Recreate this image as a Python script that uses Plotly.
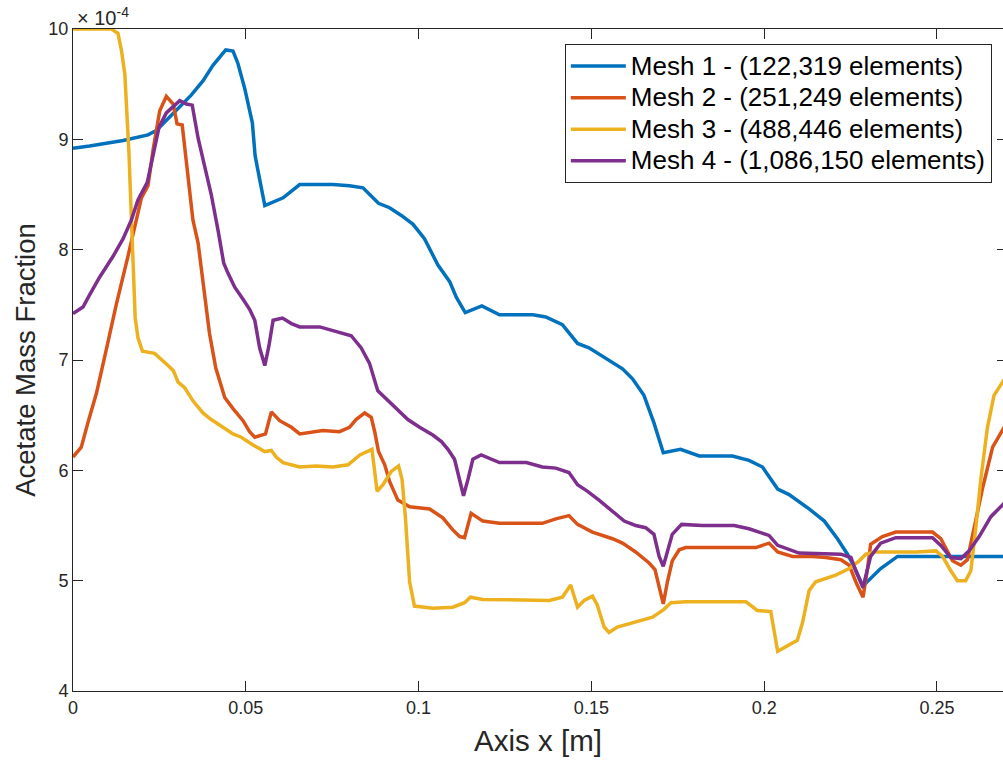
import plotly.graph_objects as go

# Axial position [m] and acetate mass fraction [x1e-4] for each mesh
x1 = [0, 0.0048, 0.0145, 0.0217, 0.0241, 0.027, 0.0309, 0.0342, 0.0376, 0.0405, 0.0442, 0.0463,
      0.0477, 0.0497, 0.0519, 0.0527, 0.054, 0.0555, 0.0608, 0.0656, 0.0752, 0.08, 0.0839, 0.0884,
      0.0916, 0.095, 0.0984, 0.1017, 0.1056, 0.109, 0.1109, 0.1135, 0.1183, 0.1234, 0.1331, 0.1368,
      0.1416, 0.146, 0.1493, 0.1532, 0.159, 0.1619, 0.1652, 0.1681, 0.1708, 0.1758, 0.1812, 0.1908,
      0.1956, 0.1995, 0.2039, 0.2072, 0.213, 0.2174, 0.2212, 0.2241, 0.226, 0.2285, 0.2337, 0.2386,
      0.27]
y1 = [8.92, 8.94, 8.99, 9.04, 9.08, 9.17, 9.30, 9.40, 9.53, 9.67, 9.81, 9.80,
      9.69, 9.46, 9.15, 8.85, 8.64, 8.40, 8.47, 8.59, 8.59, 8.58, 8.56, 8.42,
      8.38, 8.31, 8.23, 8.10, 7.86, 7.71, 7.57, 7.43, 7.49, 7.41, 7.41, 7.39,
      7.32, 7.15, 7.11, 7.03, 6.92, 6.83, 6.68, 6.43, 6.16, 6.19, 6.13, 6.13,
      6.09, 6.03, 5.83, 5.78, 5.65, 5.54, 5.38, 5.24, 5.13, 4.95, 5.11, 5.22,
      5.22]

x2 = [0, 0.0024, 0.0043, 0.0068, 0.0096, 0.0125, 0.0159, 0.0183, 0.0198, 0.0217, 0.0232, 0.0251,
      0.027, 0.029, 0.0301, 0.0316, 0.0328, 0.0347, 0.0362, 0.0376, 0.0395, 0.0413, 0.0439, 0.0463,
      0.0492, 0.0511, 0.0526, 0.0557, 0.0574, 0.0598, 0.0632, 0.0656, 0.0685, 0.0723, 0.0771, 0.08,
      0.0819, 0.0844, 0.0863, 0.0873, 0.0884, 0.0902, 0.0916, 0.094, 0.0974, 0.1032, 0.107, 0.1099,
      0.1119, 0.1133, 0.1152, 0.1186, 0.1234, 0.1358, 0.1397, 0.1435, 0.146, 0.1503, 0.1561, 0.159,
      0.1628, 0.1667, 0.1684, 0.1696, 0.1708, 0.172, 0.1734, 0.1754, 0.1773, 0.1976, 0.2014, 0.2039,
      0.2082, 0.214, 0.2178, 0.2222, 0.2246, 0.2265, 0.2286, 0.2299, 0.2308, 0.2342, 0.2381, 0.2487,
      0.2511, 0.2545, 0.2569, 0.2588, 0.2607, 0.2632, 0.2661, 0.27]
y2 = [6.12, 6.21, 6.43, 6.70, 7.09, 7.50, 7.94, 8.27, 8.47, 8.58, 8.91, 9.26,
      9.39, 9.32, 9.14, 9.13, 8.80, 8.27, 8.06, 7.71, 7.24, 6.93, 6.66, 6.56,
      6.45, 6.35, 6.30, 6.33, 6.53, 6.45, 6.39, 6.33, 6.34, 6.36, 6.35, 6.39,
      6.46, 6.52, 6.48, 6.35, 6.17, 6.05, 5.90, 5.73, 5.67, 5.65, 5.57, 5.46,
      5.40, 5.39, 5.61, 5.54, 5.52, 5.52, 5.56, 5.59, 5.51, 5.44, 5.38, 5.34,
      5.26, 5.16, 5.10, 4.95, 4.79, 4.99, 5.18, 5.28, 5.30, 5.30, 5.34, 5.26,
      5.22, 5.22, 5.21, 5.19, 5.14, 4.99, 4.85, 5.11, 5.33, 5.40, 5.44, 5.44,
      5.38, 5.18, 5.14, 5.19, 5.46, 5.84, 6.21, 6.42]

x3 = [0, 0.0111, 0.013, 0.014, 0.015, 0.0156, 0.0162, 0.0167, 0.0174, 0.018, 0.0188, 0.0201,
      0.0236, 0.0255, 0.0275, 0.0291, 0.0304, 0.0323, 0.0347, 0.0376, 0.04, 0.0434, 0.0463, 0.0487,
      0.0521, 0.0555, 0.0574, 0.0588, 0.0608, 0.0656, 0.0704, 0.0752, 0.0796, 0.083, 0.0865, 0.088,
      0.0897, 0.0921, 0.0942, 0.0952, 0.0962, 0.0974, 0.0988, 0.1041, 0.1099, 0.1133, 0.115, 0.1186,
      0.1378, 0.1416, 0.144, 0.146, 0.1479, 0.1503, 0.1517, 0.1537, 0.1551, 0.1575, 0.1619, 0.1677,
      0.171, 0.173, 0.1773, 0.1947, 0.198, 0.2019, 0.2039, 0.2072, 0.2096, 0.2111, 0.213, 0.2149,
      0.2207, 0.2246, 0.2275, 0.2294, 0.2323, 0.239, 0.2439, 0.2497, 0.2516, 0.254, 0.2559, 0.2583,
      0.2598, 0.2613, 0.2627, 0.2646, 0.2665, 0.27]
y3 = [10.0, 10.0, 9.96, 9.81, 9.59, 9.26, 8.87, 8.45, 7.86, 7.38, 7.20, 7.08,
      7.06, 7.01, 6.95, 6.90, 6.80, 6.75, 6.63, 6.52, 6.46, 6.39, 6.33, 6.30,
      6.23, 6.17, 6.18, 6.12, 6.07, 6.03, 6.04, 6.03, 6.05, 6.14, 6.19, 5.81,
      5.87, 5.99, 6.04, 5.92, 5.57, 4.99, 4.77, 4.75, 4.76, 4.80, 4.85, 4.83,
      4.82, 4.85, 4.96, 4.76, 4.82, 4.86, 4.78, 4.58, 4.53, 4.58, 4.62, 4.67,
      4.74, 4.80, 4.81, 4.81, 4.73, 4.72, 4.36, 4.42, 4.46, 4.62, 4.91, 4.99,
      5.05, 5.11, 5.18, 5.24, 5.26, 5.26, 5.26, 5.27, 5.22, 5.09, 5.00, 5.00,
      5.09, 5.50, 5.92, 6.39, 6.68, 6.85]

x4 = [0, 0.0029, 0.0048, 0.0077, 0.0116, 0.0145, 0.0169, 0.0188, 0.0215, 0.0232, 0.0249, 0.027,
      0.029, 0.0309, 0.0328, 0.0345, 0.0362, 0.0381, 0.04, 0.042, 0.0436, 0.0448, 0.0468, 0.0492,
      0.0511, 0.0526, 0.054, 0.0555, 0.0567, 0.0579, 0.0606, 0.0632, 0.0656, 0.0714, 0.0752, 0.0805,
      0.0834, 0.0858, 0.0882, 0.0906, 0.094, 0.0969, 0.1003, 0.1041, 0.1066, 0.1085, 0.1104, 0.1117,
      0.113, 0.1143, 0.1157, 0.1181, 0.1234, 0.1312, 0.1358, 0.1397, 0.1435, 0.146, 0.1489, 0.1522,
      0.1561, 0.1595, 0.1628, 0.1657, 0.1681, 0.1696, 0.1708, 0.172, 0.1734, 0.1761, 0.1821, 0.1913,
      0.1956, 0.2014, 0.2039, 0.2101, 0.2178, 0.2222, 0.2251, 0.2265, 0.2286, 0.2308, 0.2337, 0.2381,
      0.2487, 0.2511, 0.254, 0.2569, 0.2593, 0.2622, 0.2656, 0.27]
y4 = [7.42, 7.48, 7.59, 7.75, 7.94, 8.10, 8.27, 8.45, 8.61, 8.87, 9.11, 9.24,
      9.30, 9.35, 9.32, 9.31, 9.01, 8.76, 8.50, 8.17, 7.88, 7.79, 7.66, 7.55,
      7.46, 7.36, 7.11, 6.95, 7.13, 7.36, 7.38, 7.33, 7.30, 7.30, 7.27, 7.22,
      7.11, 6.97, 6.72, 6.65, 6.54, 6.46, 6.39, 6.32, 6.26, 6.19, 6.10, 5.92,
      5.77, 5.92, 6.10, 6.14, 6.07, 6.07, 6.03, 6.02, 5.98, 5.87, 5.81, 5.73,
      5.63, 5.54, 5.50, 5.48, 5.42, 5.22, 5.13, 5.26, 5.42, 5.51, 5.50, 5.50,
      5.47, 5.41, 5.32, 5.25, 5.24, 5.24, 5.21, 5.09, 4.94, 5.22, 5.34, 5.39,
      5.39, 5.32, 5.21, 5.20, 5.27, 5.40, 5.58, 5.72]

names = ["Mesh 1 - (122,319 elements)", "Mesh 2 - (251,249 elements)",
         "Mesh 3 - (488,446 elements)", "Mesh 4 - (1,086,150 elements)"]
colors = ["#0072BD", "#D95319", "#EDB120", "#7E2F8E"]

x_ticks = [0, 0.05, 0.1, 0.15, 0.2, 0.25]
x_ticklabels = ["0", "0.05", "0.1", "0.15", "0.2", "0.25"]
y_ticks = [4, 5, 6, 7, 8, 9, 10]

FONT = "Arial, 'Liberation Sans', Helvetica, sans-serif"
AX = "#262626"

fig = go.Figure()
for xs, ys, nm, c in zip([x1, x2, x3, x4], [y1, y2, y3, y4], names, colors):
    fig.add_trace(go.Scatter(x=xs, y=ys, mode="lines",
                             name='<span style="font-size:26px">' + nm + '</span>',
                             line=dict(color=c, width=3.5)))

# right-side tick stubs (mirrored y ticks)
fig.add_trace(go.Scatter(x=[None], y=[None], yaxis="y2", showlegend=False))

fig.update_layout(
    width=1003, height=766,
    margin=dict(l=73, r=0, t=29, b=75, autoexpand=False),
    paper_bgcolor="white", plot_bgcolor="white",
    font=dict(family=FONT, color=AX, size=18),
    xaxis=dict(range=[0, 0.2691], tickvals=x_ticks, ticktext=x_ticklabels,
               ticks="inside", ticklen=10, tickwidth=1, tickcolor=AX,
               showline=True, linecolor=AX, linewidth=1, mirror="ticks",
               showgrid=False, zeroline=False,
               tickfont=dict(size=18, color=AX),
               title=dict(text="Axis x [m]", font=dict(size=29.5, color=AX), standoff=13)),
    yaxis=dict(range=[4, 10], tickvals=y_ticks,
               ticks="inside", ticklen=10, tickwidth=1, tickcolor=AX,
               showline=True, linecolor=AX, linewidth=1,
               showgrid=False, zeroline=False,
               tickfont=dict(size=18, color=AX),
               title=dict(text="Acetate Mass Fraction", font=dict(size=27.5, color=AX), standoff=4)),
    yaxis2=dict(range=[4, 10], tickvals=y_ticks, overlaying="y", side="right",
                ticks="inside", ticklen=6, tickwidth=1, tickcolor=AX,
                showticklabels=False, showline=False, showgrid=False, zeroline=False),
    legend=dict(x=0.988, xanchor="right", y=0.977, yanchor="top",
                bgcolor="white", bordercolor=AX, borderwidth=1,
                font=dict(size=22, color="#000000", family=FONT),
                itemwidth=55, tracegroupgap=0),
    annotations=[dict(text="× 10<sup>-4</sup>", xref="paper", yref="paper",
                      x=0, y=1, xanchor="left", yanchor="bottom", yshift=-2, xshift=2,
                      showarrow=False, font=dict(size=20, color=AX))],
)

fig.write_html("out.html")
